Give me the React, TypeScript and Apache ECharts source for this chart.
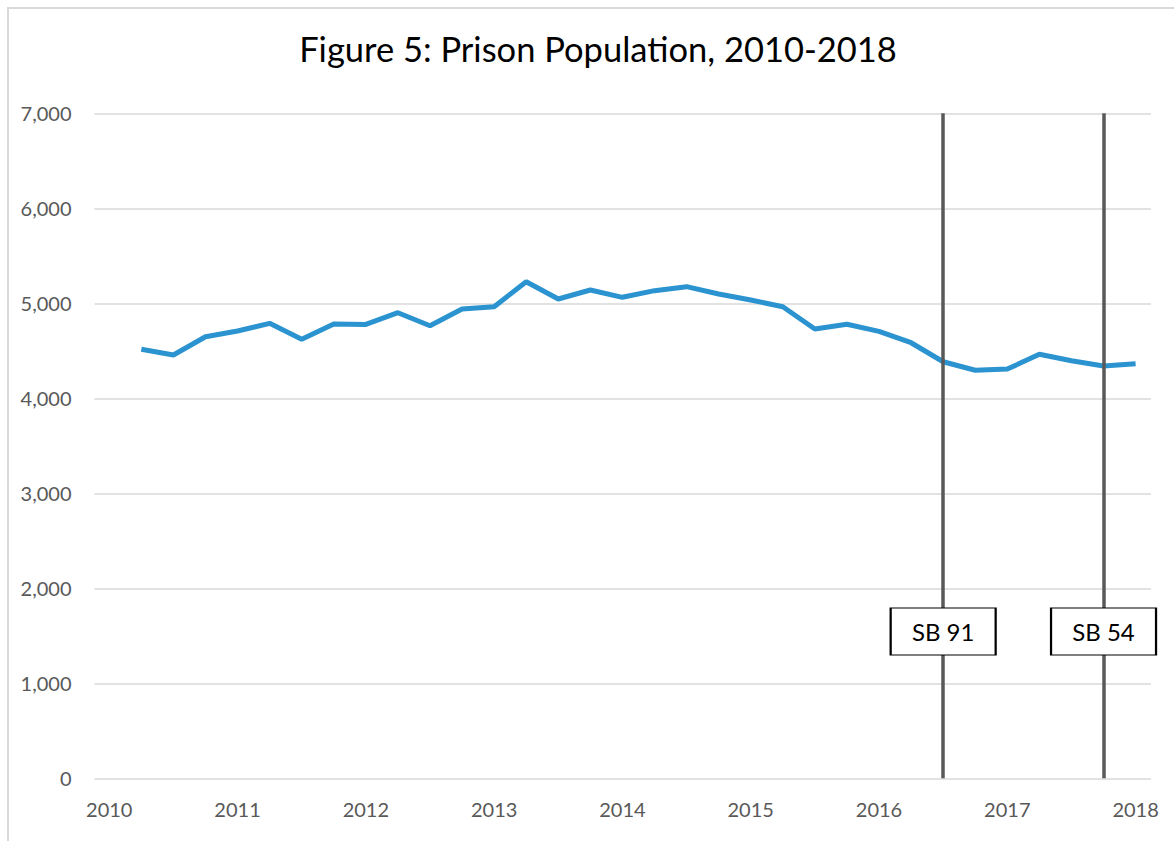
import React, { useEffect, useRef } from "react";
import * as echarts from "echarts";

const TITLE = "Figure 5: Prison Population, 2010-2018";
const quarterX = [
  2010.25, 2010.5, 2010.75, 2011.0, 2011.25, 2011.5, 2011.75, 2012.0,
  2012.25, 2012.5, 2012.75, 2013.0, 2013.25, 2013.5, 2013.75, 2014.0,
  2014.25, 2014.5, 2014.75, 2015.0, 2015.25, 2015.5, 2015.75, 2016.0,
  2016.25, 2016.5, 2016.75, 2017.0, 2017.25, 2017.5, 2017.75, 2018.0,
];
const population = [
  4516, 4456, 4648, 4708, 4789, 4621, 4782, 4778,
  4901, 4764, 4940, 4964, 5227, 5045, 5140, 5063,
  5133, 5175, 5098, 5035, 4964, 4729, 4779, 4705,
  4585, 4385, 4295, 4308, 4463, 4396, 4340, 4364,
];
const yearTicks = [2010, 2011, 2012, 2013, 2014, 2015, 2016, 2017, 2018];
const yTicks = [0, 1000, 2000, 3000, 4000, 5000, 6000, 7000];
const billNames = ["SB 91", "SB 54"];
const billDates = [2016.5, 2017.75];
const billLabelValue = 1545;

const FONT = "Lato, 'Liberation Sans', sans-serif";

export default function App() {
  const ref = useRef<HTMLDivElement>(null);
  useEffect(() => {
    if (!ref.current) return;
    const chart = echarts.init(ref.current, undefined, { renderer: "svg" });
    chart.setOption({
      animation: false,
      backgroundColor: "#ffffff",
      textStyle: { fontFamily: FONT },
      title: {
        text: TITLE,
        left: 593,
        top: 26,
        textAlign: "center",
        textStyle: { fontFamily: FONT, fontSize: 34.5, fontWeight: "normal", color: "#000000" },
      },
      graphic: [
        {
          type: "rect",
          silent: true,
          shape: { x: 8, y: 8, width: 1400, height: 1000 },
          style: { fill: "none", stroke: "#d9d9d9", lineWidth: 2 },
        },
      ],
      grid: {
        left: 94.5,
        right: 23,
        top: 113.3,
        bottom: 62.7,
        containLabel: false,
        outerBoundsMode: "none",
      },
      xAxis: {
        type: "value",
        min: 2009.885,
        max: 2018.12,
        axisLine: { show: false },
        axisTick: { show: false },
        splitLine: { show: false },
        axisLabel: {
          customValues: yearTicks,
          formatter: (v: number) => String(Math.round(v)),
          color: "#595959",
          fontSize: 20,
          fontFamily: FONT,
          margin: 21,
        },
      },
      yAxis: {
        type: "value",
        min: yTicks[0],
        max: yTicks[yTicks.length - 1],
        interval: 1000,
        axisLine: { show: false },
        axisTick: { show: false },
        splitLine: { lineStyle: { color: "#d9d9d9", width: 1.5 } },
        axisLabel: {
          formatter: (v: number) => v.toLocaleString("en-US"),
          color: "#595959",
          fontSize: 20,
          fontFamily: FONT,
          margin: 23,
        },
      },
      series: [
        {
          type: "line",
          name: "Prison Population",
          data: quarterX.map((x, i) => [x, population[i]]),
          showSymbol: false,
          symbol: "none",
          lineStyle: { color: "#2b93cf", width: 5 },
          z: 3,
          markLine: {
            silent: true,
            symbol: ["none", "none"],
            label: { show: false },
            lineStyle: { color: "#595959", width: 3.5, type: "solid" },
            data: billDates.map((d) => ({ xAxis: d })),
            z: 4,
          },
        },
        {
          type: "line",
          name: "labels",
          data: [],
          markPoint: {
            silent: true,
            symbol: "rect",
            symbolSize: [105, 47],
            itemStyle: { color: "#ffffff", borderColor: "#000000", borderWidth: 1.5 },
            label: {
              show: true,
              position: "inside",
              color: "#000000",
              fontSize: 24,
              fontFamily: FONT,
              formatter: (p: any) => p.name,
            },
            data: billNames.map((n, i) => ({ name: n, coord: [billDates[i], billLabelValue] })),
            z: 10,
          },
          z: 10,
        },
      ],
    });
    return () => chart.dispose();
  }, []);
  return (
    <div
      ref={ref}
      style={{ position: "fixed", left: 0, top: 0, width: 1174, height: 841 }}
    />
  );
}
